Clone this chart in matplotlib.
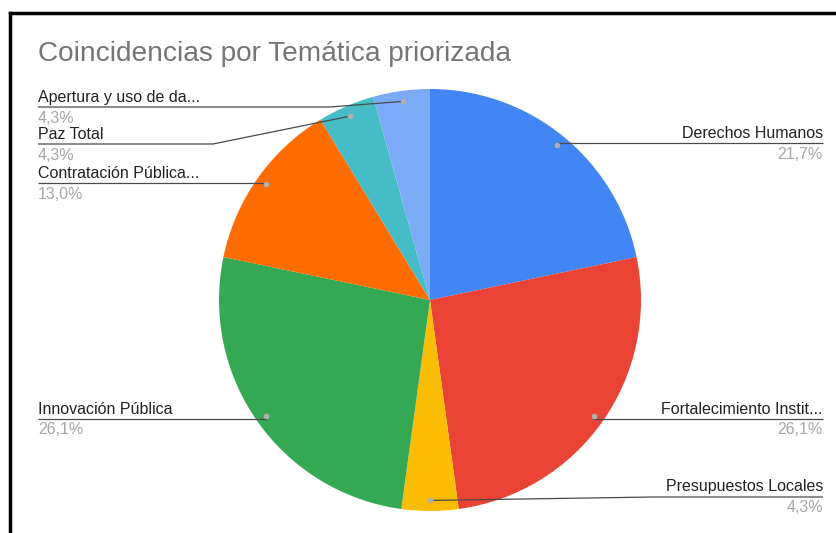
import matplotlib.pyplot as plt
import numpy as np

# Data
categories = ['Derechos Humanos', 'Fortalecimiento Instit...', 'Presupuestos Locales',
              'Innovación Pública', 'Contratación Pública...', 'Paz Total',
              'Apertura y uso de da...']
counts = [5, 6, 1, 6, 3, 1, 1]
colors = ['#4285F4', '#EA4335', '#FBBC04', '#34A853', '#FF6D01', '#46BDC6', '#7BAAF7']
title = 'Coincidencias por Temática priorizada'

# Label layout (pixel coords from top): side, underline y, knee x
label_side = ['right', 'right', 'right', 'left', 'left', 'left', 'left']
label_line_y = [143, 419, 497, 419, 183, 144, 107]
label_knee_x = [None, None, 653, None, None, 213, 330]

W, H = 837, 533
plt.rcParams['font.family'] = ['Liberation Sans', 'DejaVu Sans']

fig = plt.figure(figsize=(W / 100, H / 100), dpi=100)
ax = fig.add_axes([0, 0, 1, 1])

center = (430, H - 300)
radius = 211
wedges, _ = ax.pie(counts, colors=colors, startangle=90, counterclock=False,
                   center=center, radius=radius,
                   wedgeprops=dict(linewidth=0))

ax.set_xlim(0, W)
ax.set_ylim(0, H)
ax.set_aspect('equal')
ax.axis('off')

total = sum(counts)
for w, name, c, side, ly, kx in zip(wedges, categories, counts, label_side,
                                    label_line_y, label_knee_x):
    mid = np.deg2rad((w.theta1 + w.theta2) / 2)
    dx = center[0] + 0.95 * radius * np.cos(mid)
    dy = center[1] + 0.95 * radius * np.sin(mid)
    end_x = 823 if side == 'right' else 38
    knee = dx if kx is None else kx
    ax.plot([dx, knee, end_x], [dy, H - ly, H - ly], color='#4a4a4a', lw=0.9,
            solid_capstyle='butt', zorder=3)
    ax.plot(dx, dy, 'o', color='#b0b0b0', markersize=3, zorder=4)
    ha = 'right' if side == 'right' else 'left'
    pct = f'{c / total * 100:.1f}%'.replace('.', ',')
    ax.text(end_x, H - ly + 10, name, ha=ha, va='center', fontsize=11.5, color='#222222')
    ax.text(end_x, H - ly - 11, pct, ha=ha, va='center', fontsize=11.5, color='#a6a6a6')

ax.text(38, H - 54, title, ha='left', va='center', fontsize=20.2, color='#757575')

# Screenshot frame (top and left edges)
ax.plot([10, W], [H - 13, H - 13], color='black', lw=2.5, clip_on=False)
ax.plot([10.5, 10.5], [H - 13, 0], color='black', lw=2.5, clip_on=False)

fig.savefig('out.png', dpi=100)
